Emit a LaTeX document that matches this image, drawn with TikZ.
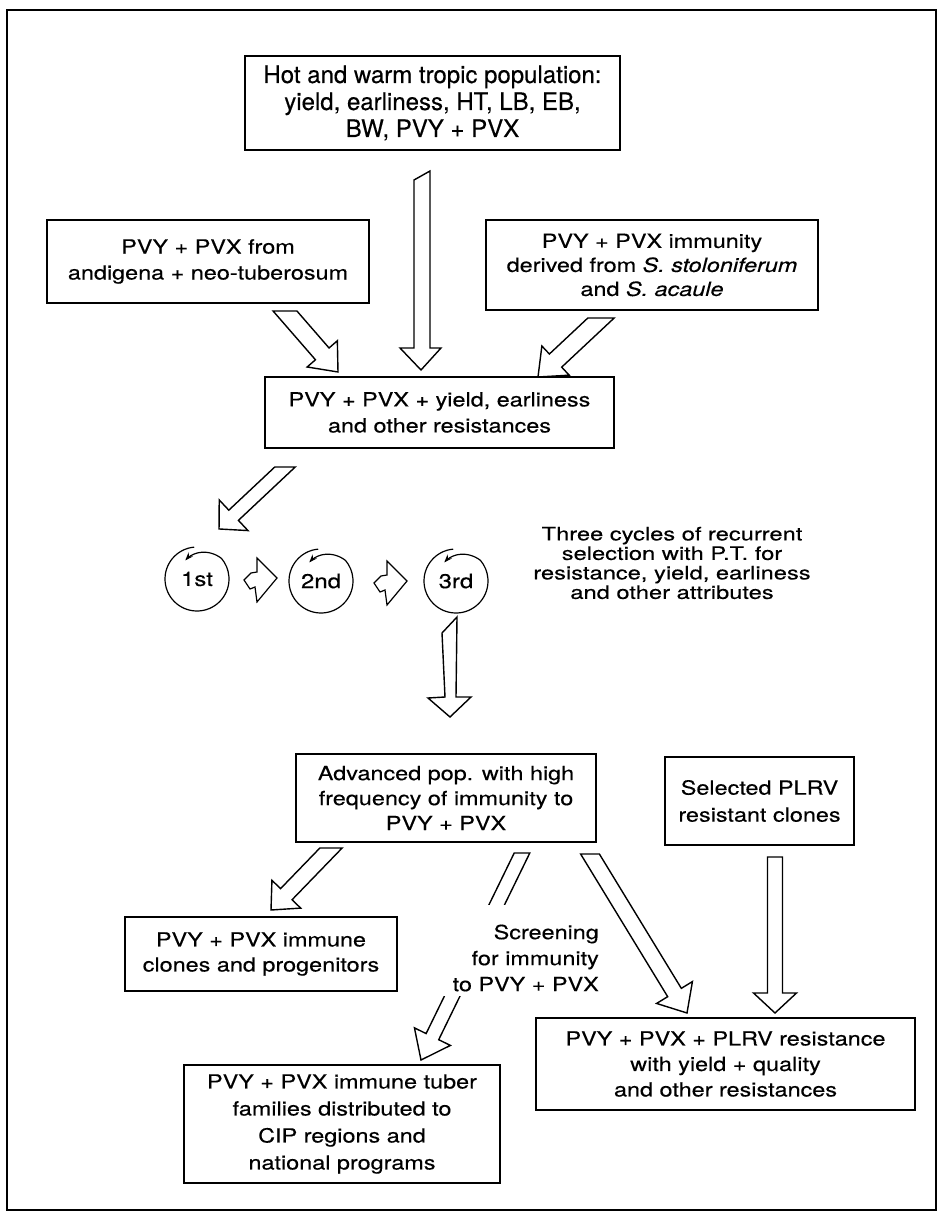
\documentclass[tikz,border=0pt]{standalone}
\usepackage{fontspec}
\setmainfont{TeX Gyre Heros}[FakeBold=0.3]
\newfontfamily\bodyf[FakeStretch=1.2,FakeBold=0.3]{TeX Gyre Heros}
\newfontfamily\widef[FakeStretch=1.28,FakeBold=0.3]{TeX Gyre Heros}
\usetikzlibrary{calc,arrows.meta}

% hollow block arrow from named coordinate #1 (tail, cut horizontally) to #2 (tip)
% #3 shaft width, #4 head width, #5 head length
\newcommand{\blockarrow}[5]{%
  \draw[blk] let \p1=(#1), \p2=(#2),
    \n1={atan2(\y2-\y1,\x2-\x1)},
    \n2={veclen(\x2-\x1,\y2-\y1)},
    \n3={0.5*#3*cos(\n1)/sin(\n1)} in
    [shift={(\p1)}, rotate=\n1]
    ({-1pt*\n3}, {0.5pt*#3}) -- ({\n2-#5pt}, {0.5pt*#3}) -- ({\n2-#5pt}, {0.5pt*#4})
    -- ({\n2+0pt}, 0pt)
    -- ({\n2-#5pt}, {-0.5pt*#4}) -- ({\n2-#5pt}, {-0.5pt*#3}) -- ({1pt*\n3}, {-0.5pt*#3}) -- cycle;}

% cycle spiral round a named node
\newcommand{\cyclespiral}[1]{%
  \draw[spir] [shift={(#1)}, yscale=-1] (95:32) arc[start angle=95, end angle=400, radius=32]
    -- plot[domain=40:122, samples=25] ({(32-10*(\x-40)/82)*cos(\x)}, {(32-10*(\x-40)/82)*sin(\x)});}

% small notched arrow between circles, centred on a named coordinate
\newcommand{\smallarrow}[1]{%
  \draw[blk, line width=1.2pt] [shift={(#1)}] (-4,-22) -- (16,-2) -- (-4,22) -- (-6,7) -- (-11,9)
    -- (-17,0) -- (-10,-7) -- (-4,-8) -- cycle;}

\begin{document}
\begin{tikzpicture}[x=1pt,y=-1pt,
  box/.style={draw, line width=1.6pt, align=center, inner sep=0pt,
              font=\bodyf\fontsize{19.5}{25}\selectfont},
  blk/.style={draw, line width=1.4pt, fill=white, line join=miter},
  spir/.style={line width=1.2pt, -{Stealth[length=8pt,width=6pt]}},
  lbl/.style={align=center, inner sep=0pt},
  ord/.style={inner sep=0pt, font=\bodyf\fontsize{20}{20}\selectfont}]

\useasboundingbox (0,0) rectangle (944,1230);
\draw[line width=1.6pt] (7,10) rectangle (936,1210);

% ---------- boxes ----------
\node[box, minimum width=375pt, minimum height=94pt, font=\fontsize{24}{27}\selectfont]
  (top) at (432.5,103) {Hot and warm tropic population:\\yield, earliness, HT, LB, EB,\\BW, PVY + PVX};
\node[box, minimum width=322pt, minimum height=83pt, font=\bodyf\fontsize{19.5}{26}\selectfont]
  (left) at (208,261.5) {PVY + PVX from\\andigena + neo-tuberosum};
\node[box, minimum width=332pt, minimum height=90pt, font=\bodyf\fontsize{19.5}{24}\selectfont]
  (right) at (652,265) {PVY + PVX immunity\\derived from \textit{S. stoloniferum}\\and \textit{S. acaule}};
\node[box, minimum width=349pt, minimum height=71pt, font=\bodyf\fontsize{19.5}{26}\selectfont]
  (mid) at (439.5,412.5) {PVY + PVX + yield, earliness\\and other resistances};

\node[lbl, font=\widef\fontsize{18.5}{19.5}\selectfont] (cyc) at (672,563)
  {Three cycles of recurrent\\selection with P.T. for\\resistance, yield, earliness\\and other attributes};

\node[box, minimum width=300pt, minimum height=88pt] (adv) at (446,798)
  {Advanced pop. with high\\frequency of immunity to\\PVY + PVX};
\node[box, minimum width=189pt, minimum height=88pt, font=\bodyf\fontsize{19.5}{27}\selectfont]
  (sel) at (759.5,801) {Selected PLRV\\resistant clones};
\node[box, minimum width=272pt, minimum height=74pt] (clo) at (261,954)
  {PVY + PVX immune\\clones and progenitors};
\node[box, minimum width=379pt, minimum height=92pt, font=\bodyf\fontsize{19.5}{25.5}\selectfont]
  (plrv) at (725.5,1064) {PVY + PVX + PLRV resistance\\with yield + quality\\and other resistances};
\node[box, minimum width=316pt, minimum height=118pt, font=\bodyf\fontsize{19.5}{27}\selectfont]
  (tub) at (342,1124) {PVY + PVX immune tuber\\families distributed to\\CIP regions and\\national programs};

% ---------- cycles ----------
\node[ord] (c1) at (197,579) {1st};
\node[ord] (c2) at (321,581) {2nd};
\node[ord] (c3) at (456,581) {3rd};
\cyclespiral{c1}
\cyclespiral{c2}
\cyclespiral{c3}
\coordinate (s1) at (261,580);
\coordinate (s2) at (391,583);
\smallarrow{s1}
\smallarrow{s2}

% ---------- arrows ----------
\coordinate (a1t) at (421,370);
\draw[blk] [shift={(a1t)}] (-7,-190) -- (9,-199) -- (9,-22) -- (20,-22) -- (0,0)
  -- (-21,-22) -- (-7,-22) -- cycle;

\coordinate (a2s) at (285,311); \coordinate (a2t) at (338,372);
\blockarrow{a2s}{a2t}{18}{40}{24}
\coordinate (a3s) at (601,318); \coordinate (a3t) at (538,377);
\blockarrow{a3s}{a3t}{18}{40}{24}
\coordinate (a4s) at (285,467); \coordinate (a4t) at (219,529);
\blockarrow{a4s}{a4t}{14}{42}{20}

\coordinate (a5t) at (450,717);
\draw[blk] [shift={(a5t)}] (7,-100) -- (6,-20) -- (21,-20) -- (0,0) -- (-22,-19)
  -- (-5,-20) -- (-8,-84) -- cycle;

\coordinate (a6s) at (331,848); \coordinate (a6t) at (271,910);
\blockarrow{a6s}{a6t}{16}{40}{22}

\coordinate (a7s) at (522,853); \coordinate (a7t) at (421,1060);
\blockarrow{a7s}{a7t}{14}{40}{26}
\fill[white] (440,905) rectangle (562,996);
\node[lbl, align=right, anchor=east, font=\bodyf\fontsize{19.5}{26}\selectfont]
  (scr) at (599,958) {Screening\\for immunity\\to PVY + PVX};

\coordinate (a8s) at (590,854); \coordinate (a8t) at (687,1013);
\blockarrow{a8s}{a8t}{16}{42}{24}
\coordinate (a9s) at (775,857); \coordinate (a9t) at (775,1013);
\blockarrow{a9s}{a9t}{15}{43}{20}

\end{tikzpicture}
\end{document}
